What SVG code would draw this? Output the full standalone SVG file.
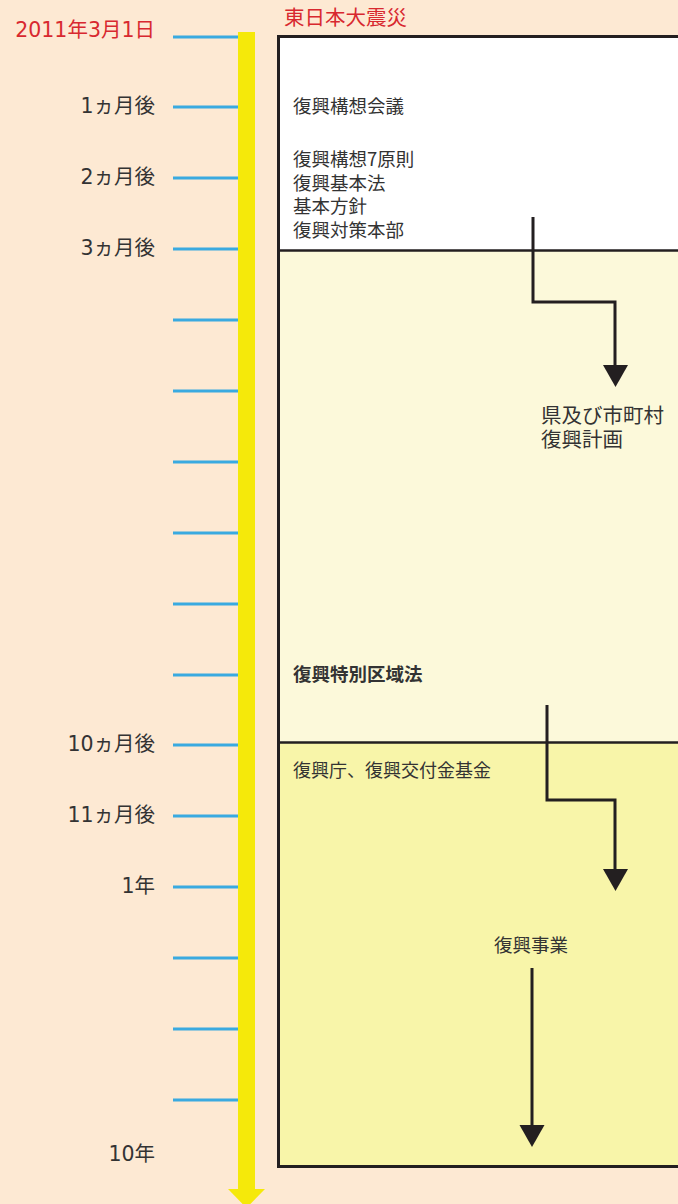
<svg xmlns="http://www.w3.org/2000/svg" width="678" height="1204" viewBox="0 0 678 1204">
<defs>
<style>
text{font-family:"Noto Sans CJK JP","Noto Sans",sans-serif;fill:#333}
.lbl{font-family:"DejaVu Sans","Noto Sans CJK JP",sans-serif;font-size:20.5px;text-anchor:end}
.red{fill:#d8282f}
.box{font-size:18.5px}
.tick{stroke:#3aaae0;stroke-width:3}
.conn{fill:none;stroke:#231f20;stroke-width:3}
.sep{stroke:#231f20;stroke-width:2.5}
.head{fill:#231f20}
</style>
</defs>
<rect x="0" y="0" width="678" height="1204" fill="#fde9d3"/>
<g id="timeline">
<rect x="238" y="32" width="17" height="1160" fill="#f5e90a"/>
<path d="M228,1189 L265,1189 L246.5,1208 Z" fill="#f5e90a"/>
</g>
<g id="ticks">
<line class="tick" x1="173" y1="37" x2="238" y2="37"/>
<line class="tick" x1="173" y1="107" x2="238" y2="107"/>
<line class="tick" x1="173" y1="178" x2="238" y2="178"/>
<line class="tick" x1="173" y1="249" x2="238" y2="249"/>
<line class="tick" x1="173" y1="320" x2="238" y2="320"/>
<line class="tick" x1="173" y1="391" x2="238" y2="391"/>
<line class="tick" x1="173" y1="462" x2="238" y2="462"/>
<line class="tick" x1="173" y1="533" x2="238" y2="533"/>
<line class="tick" x1="173" y1="604" x2="238" y2="604"/>
<line class="tick" x1="173" y1="675" x2="238" y2="675"/>
<line class="tick" x1="173" y1="745" x2="238" y2="745"/>
<line class="tick" x1="173" y1="816" x2="238" y2="816"/>
<line class="tick" x1="173" y1="887" x2="238" y2="887"/>
<line class="tick" x1="173" y1="958" x2="238" y2="958"/>
<line class="tick" x1="173" y1="1029" x2="238" y2="1029"/>
<line class="tick" x1="173" y1="1100" x2="238" y2="1100"/>
</g>
<g id="time-labels">
<text class="lbl red" x="155" y="37">2011年3月1日</text>
<text class="lbl" x="155" y="113">1ヵ月後</text>
<text class="lbl" x="155" y="184">2ヵ月後</text>
<text class="lbl" x="155" y="255">3ヵ月後</text>
<text class="lbl" x="155" y="751">10ヵ月後</text>
<text class="lbl" x="155" y="822">11ヵ月後</text>
<text class="lbl" x="155" y="893">1年</text>
<text class="lbl" x="155" y="1161">10年</text>
</g>
<g id="phase1">
<rect x="278.5" y="36.5" width="405" height="214" fill="#ffffff"/>
<text class="red" x="284" y="25" style="font-size:20.5px">東日本大震災</text>
<text class="box" x="293" y="113">復興構想会議</text>
<text class="box" x="293" y="166">復興構想7原則</text>
<text class="box" x="293" y="189.5">復興基本法</text>
<text class="box" x="293" y="213">基本方針</text>
<text class="box" x="293" y="236.5">復興対策本部</text>
</g>
<g id="phase2">
<rect x="278.5" y="250.5" width="405" height="492" fill="#fcf9da"/>
<text x="541" y="423" style="font-size:20.5px"><tspan x="541" y="423">県及び市町村</tspan><tspan x="541" y="447">復興計画</tspan></text>
<text class="box" x="293" y="681" style="font-weight:bold">復興特別区域法</text>
</g>
<g id="phase3">
<rect x="278.5" y="742.5" width="405" height="424" fill="#f8f5a9"/>
<text class="box" x="293" y="777" style="font-size:18px">復興庁、復興交付金基金</text>
<text class="box" x="531" y="952" text-anchor="middle">復興事業</text>
</g>
<g id="frame">
<line class="sep" x1="278" y1="250.5" x2="678" y2="250.5"/>
<line class="sep" x1="278" y1="742.5" x2="678" y2="742.5"/>
<path d="M680,36.5 L278.5,36.5 L278.5,1166.5 L680,1166.5" fill="none" stroke="#231f20" stroke-width="3"/>
</g>
<g id="connectors">
<path class="conn" d="M533,217 L533,302 L615,302 L615,368"/>
<path class="head" d="M603,365 L628,365 L615.5,387 Z"/>
<path class="conn" d="M547,705 L547,800 L615,800 L615,872"/>
<path class="head" d="M603,869 L628,869 L615.5,891 Z"/>
<path class="conn" d="M532,968 L532,1128"/>
<path class="head" d="M519.5,1125 L544.5,1125 L532,1147 Z"/>
</g>
</svg>
